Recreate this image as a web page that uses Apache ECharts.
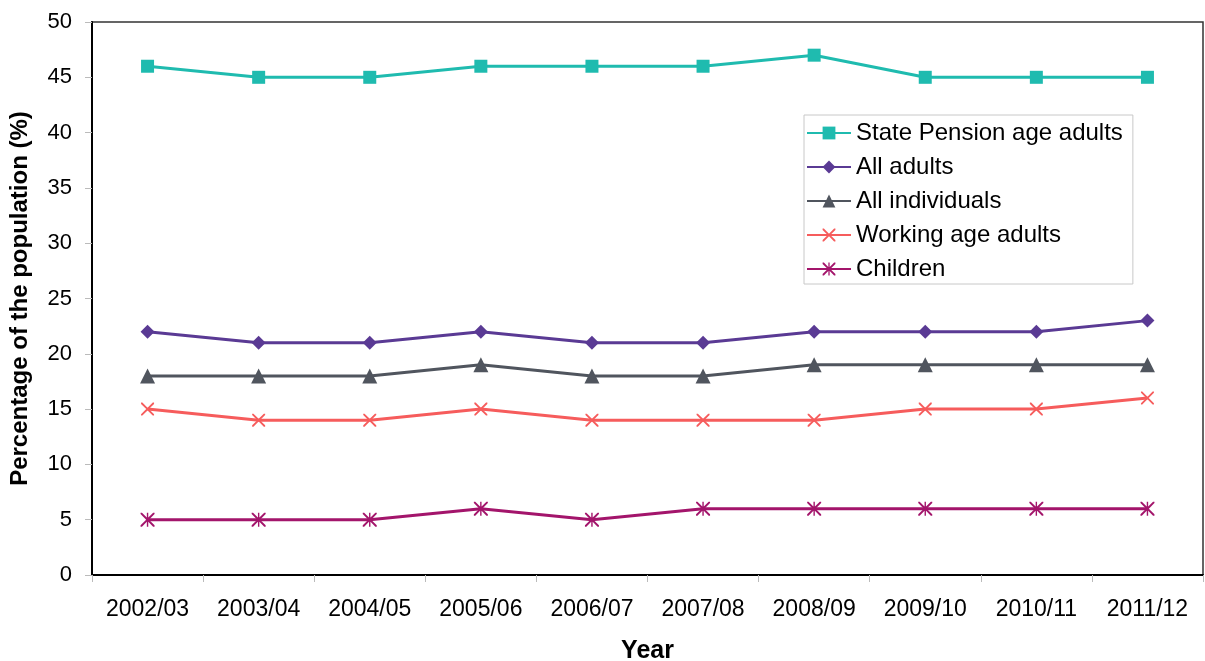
<!DOCTYPE html>
<html><head><meta charset="utf-8">
<script src="https://cdn.jsdelivr.net/npm/echarts@6/dist/echarts.min.js"></script>
<style>html,body{margin:0;padding:0;background:#fff}#c{width:1205px;height:661px}</style>
</head><body><div id="c"></div>
<script>
const years = ['2002/03','2003/04','2004/05','2005/06','2006/07','2007/08','2008/09','2009/10','2010/11','2011/12'];
const statePension = [46,45,45,46,46,46,47,45,45,45];
const allAdults = [22,21,21,22,21,21,22,22,22,23];
const allIndividuals = [18,18,18,19,18,18,19,19,19,19];
const workingAge = [15,14,14,15,14,14,14,15,15,16];
const children = [5,5,5,6,5,6,6,6,6,6];
const yTicks = [0,5,10,15,20,25,30,35,40,45,50];

const xPath = 'path://M0,0 L2,0 L10,8 L18,0 L20,0 L20,2 L12,10 L20,18 L20,20 L18,20 L10,12 L2,20 L0,20 L0,18 L8,10 L0,2 Z';
const starPath = 'path://M0,0 L2,0 L10,8 L18,0 L20,0 L20,2 L12,10 L20,18 L20,20 L18,20 L10,12 L2,20 L0,20 L0,18 L8,10 L0,2 Z M9,0 L11,0 L11,20 L9,20 Z';

function s(name, data, color, symbol, size) {
  return {name, type:'line', data, symbol, symbolSize:size, showSymbol:true,
    lineStyle:{color, width:3}, itemStyle:{color}, emphasis:{disabled:true}, z:2};
}
const chart = echarts.init(document.getElementById('c'), null, {renderer:'canvas'});
chart.setOption({
  animation:false,
  backgroundColor:'#fff',
  textStyle:{fontFamily:'Liberation Sans, Arial, sans-serif'},
  grid:{left:92, right:2, top:22, bottom:86, containLabel:false, outerBoundsMode:'none',
    show:true, borderColor:'#333', borderWidth:1.5},
  legend:{
    orient:'vertical', left:804, top:115,
    padding:[6,10,3,2], itemGap:10, itemWidth:44, itemHeight:16,
    backgroundColor:'#fff', borderColor:'#c8c8c8', borderWidth:1,
    textStyle:{fontSize:24, lineHeight:22, color:'#000', fontFamily:'Liberation Sans, Arial, sans-serif'},
    data:['State Pension age adults','All adults','All individuals','Working age adults','Children']
  },
  xAxis:{type:'category', data:years, boundaryGap:true,
    name:'Year', nameLocation:'middle', nameGap:64,
    nameTextStyle:{fontSize:25, fontWeight:'bold', color:'#000'},
    axisLine:{lineStyle:{color:'#000', width:2}},
    axisTick:{show:true, length:7, lineStyle:{color:'#bbb'}},
    axisLabel:{fontSize:23, color:'#000', margin:23},
    splitLine:{show:false}},
  yAxis:{type:'value', min:0, max:50, interval:5,
    name:'Percentage of the population (%)', nameLocation:'middle', nameGap:60,
    nameTextStyle:{fontSize:24, fontWeight:'bold', color:'#000'},
    axisLine:{show:true, lineStyle:{color:'#000', width:2}},
    axisTick:{show:true, length:7, lineStyle:{color:'#bbb'}},
    axisLabel:{fontSize:22, color:'#000', margin:20,
      formatter:v=>yTicks.includes(v)?String(v):''},
    splitLine:{show:false}},
  series:[
    s('State Pension age adults', statePension, '#1fbbaf', 'rect', 13),
    s('All adults', allAdults, '#5a3a94', 'diamond', 14),
    s('All individuals', allIndividuals, '#50555e', 'triangle', 15),
    s('Working age adults', workingAge, '#f65c5c', xPath, 13),
    s('Children', children, '#a3156b', starPath, 14)
  ]
});
</script></body></html>
